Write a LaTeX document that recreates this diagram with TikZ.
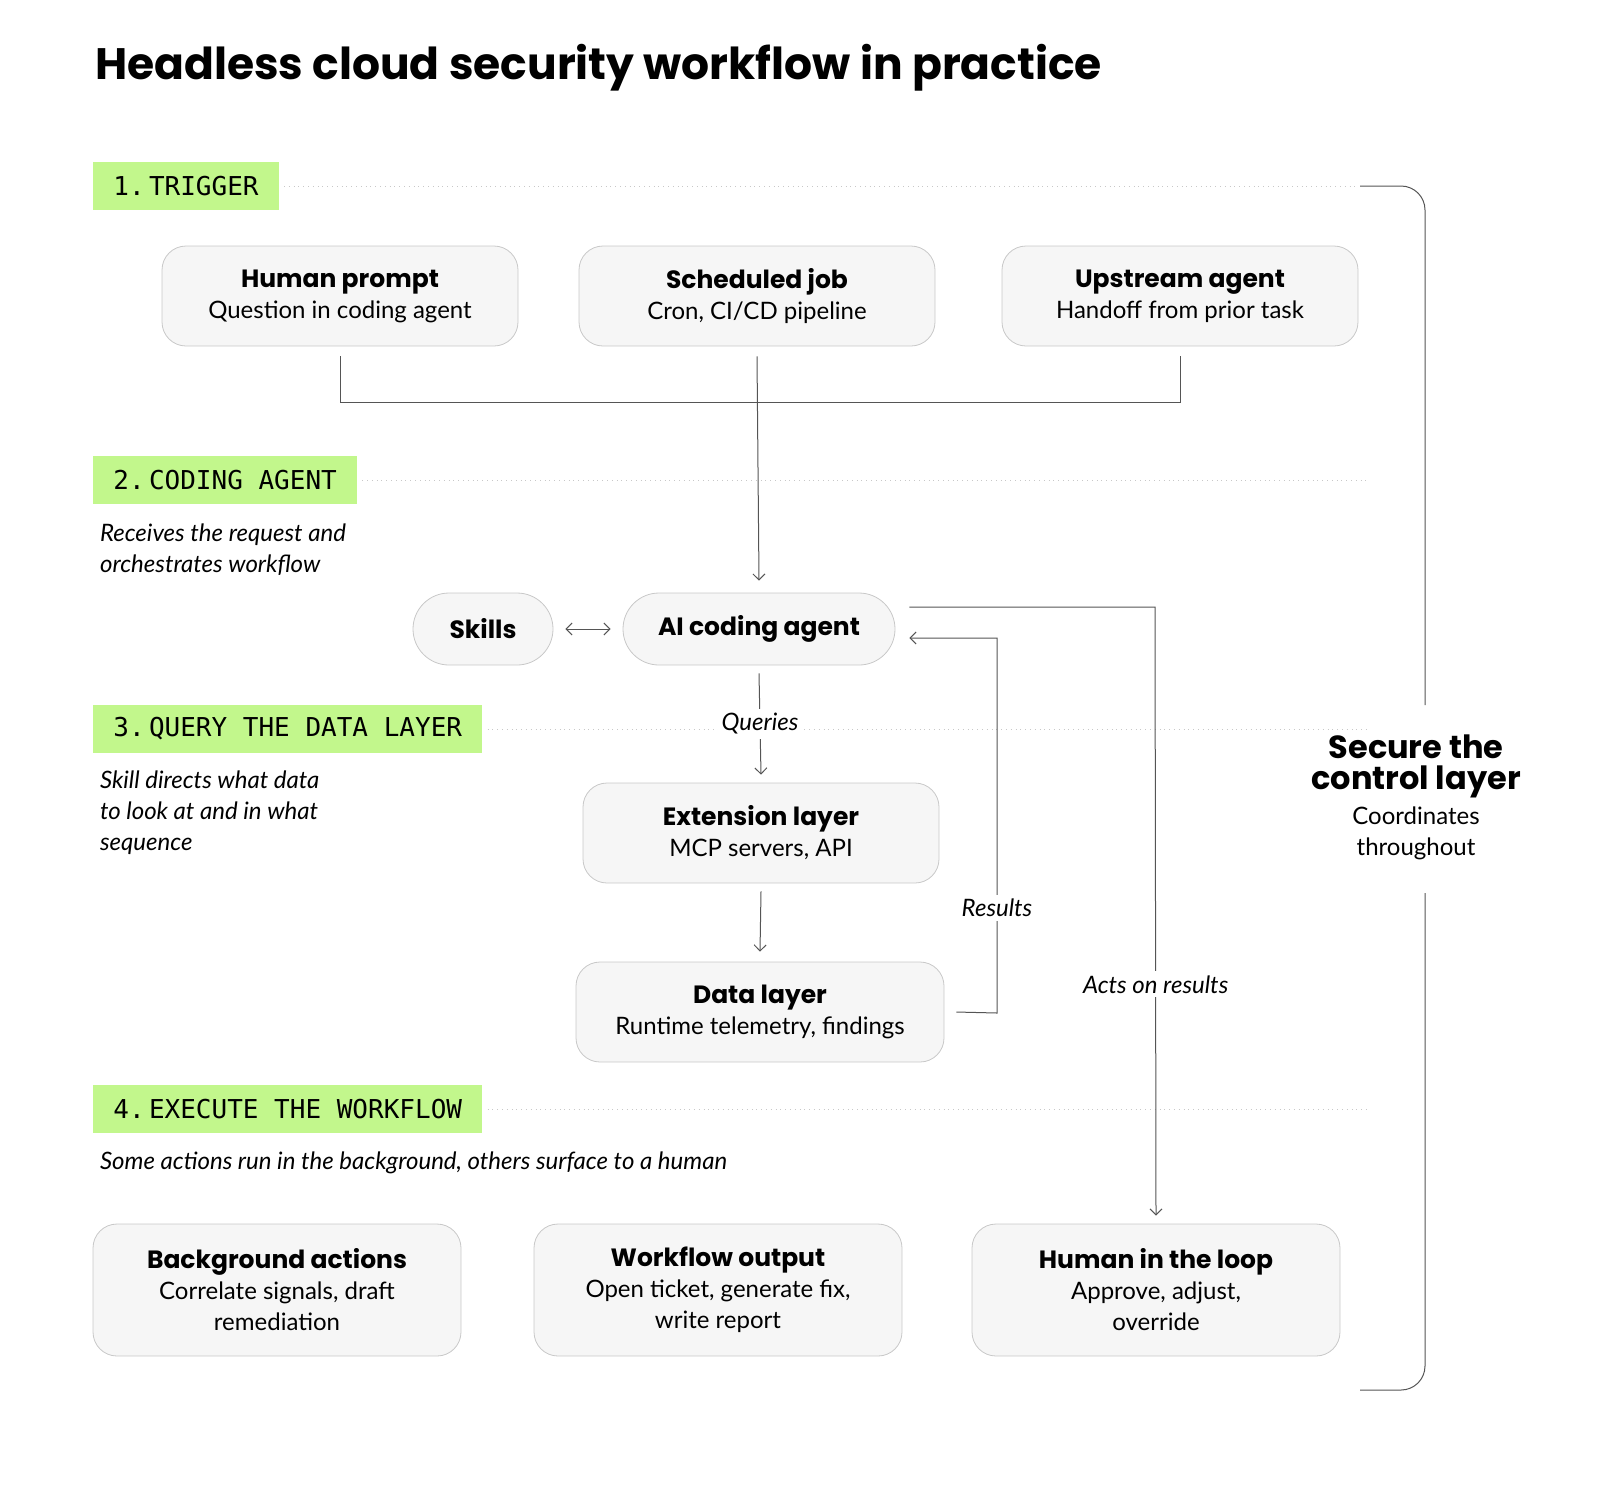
\documentclass[tikz,border=0pt]{standalone}
\usepackage{fontspec}
\setmainfont{Lato}
\newfontfamily\headfont{Poppins}
\newfontfamily\monofont{DejaVu Sans Mono}
\usetikzlibrary{positioning,arrows.meta}
\definecolor{taggreen}{HTML}{C2F78C}
\definecolor{boxfill}{HTML}{F6F6F6}
\definecolor{boxline}{HTML}{C8C8C8}
\definecolor{wire}{HTML}{555555}
\begin{document}
\begin{tikzpicture}[x=0.5pt,y=-0.5pt,
        card/.style={draw=boxline,fill=boxfill,rounded corners=12pt,align=center,font=\fontsize{12}{15.5}\selectfont,inner sep=0pt},
        pill/.style={draw=boxline,fill=boxfill,rounded corners=18pt,font=\headfont\bfseries\fontsize{12.5}{15}\selectfont,inner sep=0pt},
        stage/.style={fill=taggreen,font=\monofont\fontsize{13}{15}\selectfont,anchor=west,minimum height=24pt,inner xsep=10pt},
        note/.style={anchor=west,align=left,font=\itshape\fontsize{12}{15.5}\selectfont},
        guide/.style={dotted,draw=boxline},
        edge/.style={draw=wire,line width=0.5pt},
        arr/.style={edge,->,>={Straight Barb[length=3pt]}},
        lbl/.style={fill=white,font=\itshape\fontsize{12}{15}\selectfont,inner sep=2pt}
    ]
        \newcommand{\hd}[1]{{\headfont\bfseries\fontsize{12.5}{15.5}\selectfont #1}}
        \newcommand{\ctl}[1]{{\headfont\bfseries\fontsize{16}{19}\selectfont #1}}
        \useasboundingbox (0,0) rectangle (1600,1490);
        % Title
        \node[anchor=west,font=\headfont\bfseries\fontsize{22}{26}\selectfont] (title) at (88,68) {Headless cloud security workflow in practice};

        % Section labels and guides
        \node[stage] (s1) at (93,186) {1.\,TRIGGER};
        \node[stage] (s2) at (93,480) {2.\,CODING AGENT};
        \node[stage] (s3) at (93,729) {3.\,QUERY THE DATA LAYER};
        \node[stage] (s4) at (93,1109) {4.\,EXECUTE THE WORKFLOW};
        \draw[guide] (s1.east) ++(5,0) -- (1355,186);
        \draw[guide] (s2.east) ++(5,0) -- (1370,480);
        \draw[guide] (s3.east) ++(5,0) -- (1370,729);
        \draw[guide] (s4.east) ++(5,0) -- (1370,1109);
        \node[note] (n2) at (93,550) {Receives the request and\\orchestrates workflow};
        \node[note] (n3) at (93,813) {Skill directs what data\\to look at and in what\\sequence};
        \node[note] (n4) at (93,1163) {Some actions run in the background, others surface to a human};

        % Triggers
        \node[card,minimum width=178pt,minimum height=50pt] (human) at (340,296) {\hd{Human prompt}\\Question in coding agent};
        \node[card,minimum width=178pt,minimum height=50pt] (sched) at (757,296) {\hd{Scheduled job}\\Cron, CI/CD pipeline};
        \node[card,minimum width=178pt,minimum height=50pt] (up) at (1180,296) {\hd{Upstream agent}\\Handoff from prior task};

        % Agent row
        \node[pill,minimum width=136pt,minimum height=36pt] (agent) at (759,629) {AI coding agent};
        \node[pill,minimum width=70pt,minimum height=36pt] (skills) at (483,629) {Skills};

        % Data path
        \node[card,minimum width=178pt,minimum height=50pt] (ext) at (761,833) {\hd{Extension layer}\\MCP servers, API};
        \node[card,minimum width=184pt,minimum height=50pt] (data) at (760,1012) {\hd{Data layer}\\Runtime telemetry, findings};

        % Outputs
        \node[card,minimum width=184pt,minimum height=66pt] (bg) at (277,1290) {\hd{Background actions}\\Correlate signals, draft\\remediation};
        \node[card,minimum width=184pt,minimum height=66pt] (wf) at (718,1290) {\hd{Workflow output}\\Open ticket, generate fix,\\write report};
        \node[card,minimum width=184pt,minimum height=66pt] (hil) at (1156,1290) {\hd{Human in the loop}\\Approve, adjust,\\override};

        % Trigger merge
        \coordinate (join) at (sched.south |- 0,402);
        \draw[edge] ([yshift=-5pt]human.south) |- (join);
        \draw[edge] ([yshift=-5pt]up.south) |- (join);
        \draw[arr] ([yshift=-5pt]sched.south) -- ([yshift=6pt]agent.north);
        \draw[edge,<->,>={Straight Barb[length=3pt]}] ([xshift=6pt]skills.east) -- ([xshift=-6pt]agent.west);

        % Queries and results
        \draw[arr] ([yshift=-4pt]agent.south) -- node[lbl] (q) {Queries} ([yshift=4pt]ext.north);
        \draw[arr] ([yshift=-4pt]ext.south) -- ([yshift=5pt]data.north);
        \coordinate (rA) at (997,1013);
        \coordinate (rB) at (997,638);
        \draw[arr] ([xshift=6pt]data.east) -- (rA) -- node[lbl,pos=0.28] (res) {Results} (rB) -- ([xshift=7pt,yshift=-4.5pt]agent.east);
        \coordinate (aA) at (1155,607);
        \draw[arr] ([xshift=7pt,yshift=11pt]agent.east) -- (aA) -- node[lbl,pos=0.62] (act) {Acts on results} ([yshift=4pt]hil.north);

        % Control layer bracket
        \node[align=center,font=\fontsize{12}{15.5}\selectfont] (ctrl) at (1416,797) {\ctl{Secure the}\\\ctl{control layer}\\[2pt]Coordinates\\throughout};
        \draw[edge,rounded corners=12pt] (1425,705) -- (1425,186) -- (1360,186);
        \draw[edge,rounded corners=12pt] (1425,893) -- (1425,1390) -- (1360,1390);
    \end{tikzpicture}
\end{document}
